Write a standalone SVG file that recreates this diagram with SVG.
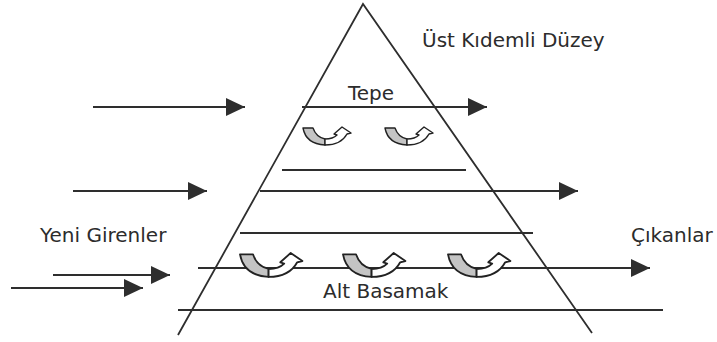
<svg xmlns="http://www.w3.org/2000/svg" xmlns:xlink="http://www.w3.org/1999/xlink" width="717" height="342" viewBox="0 0 717 342">
  <style>
    .ln { stroke: #2e2e2e; stroke-width: 1.8; fill: none; }
    .arr { stroke: #2e2e2e; stroke-width: 1.8; fill: none; marker-end: url(#ah); }
    .lbl { font-family: "DejaVu Sans", Verdana, sans-serif; font-size: 20px; fill: #2c2c2c; }
    .cg { fill: #c4c4c4; stroke: #222; stroke-width: 1.4; stroke-linejoin: round; }
    .cw { fill: #fff; stroke: #222; stroke-width: 1.4; stroke-linejoin: round; }
  </style>
  <defs>
    <marker id="ah" markerUnits="userSpaceOnUse" markerWidth="20" markerHeight="18" refX="19" refY="9" orient="auto">
      <path d="M0,0 L19,9 L0,18 Z" fill="#2e2e2e"/>
    </marker>
    <g id="curl">
      <path class="cg" d="M0,1 L10,1 Q13,10 22,12 L22,18 Q3,17 0,1 Z"/>
      <path class="cw" d="M22,12 Q30,12 34,8 L31,7 L39,0 L48,6 L44,7 Q38,18 22,18 Z"/>
    </g>
  </defs>
  <rect width="717" height="342" fill="#ffffff"/>

  <g id="pyramid">
    <path class="ln" d="M178,335 L363,4 L592,333"/>
  </g>

  <g id="connectors">
    <line class="arr" x1="93" y1="107" x2="245" y2="107"/>
    <line class="arr" x1="302" y1="107" x2="487" y2="107"/>
    <line class="ln" x1="282" y1="170" x2="466" y2="170"/>
    <line class="arr" x1="73" y1="191" x2="207" y2="191"/>
    <line class="arr" x1="260" y1="191" x2="578" y2="191"/>
    <line class="ln" x1="240" y1="233" x2="533" y2="233"/>
    <line class="arr" x1="198" y1="268" x2="650" y2="268"/>
    <line class="arr" x1="53" y1="275" x2="170" y2="275"/>
    <line class="arr" x1="11" y1="288" x2="143" y2="288"/>
    <line class="ln" x1="178" y1="310" x2="663" y2="310"/>
  </g>

  <g id="curls">
    <use xlink:href="#curl" transform="translate(303,127)"/>
    <use xlink:href="#curl" transform="translate(385,127)"/>
    <use xlink:href="#curl" transform="translate(240,253) scale(1.3,1.33)"/>
    <use xlink:href="#curl" transform="translate(343,253) scale(1.3,1.33)"/>
    <use xlink:href="#curl" transform="translate(448,253) scale(1.3,1.33)"/>
  </g>

  <g id="node-ust"><text class="lbl" x="422" y="47">Üst Kıdemli Düzey</text></g>
  <g id="node-tepe"><text class="lbl" x="348" y="100">Tepe</text></g>
  <g id="node-yeni"><text class="lbl" x="40" y="242">Yeni Girenler</text></g>
  <g id="node-cikan"><text class="lbl" x="631" y="242">Çıkanlar</text></g>
  <g id="node-alt"><text class="lbl" x="323" y="298">Alt Basamak</text></g>
</svg>
